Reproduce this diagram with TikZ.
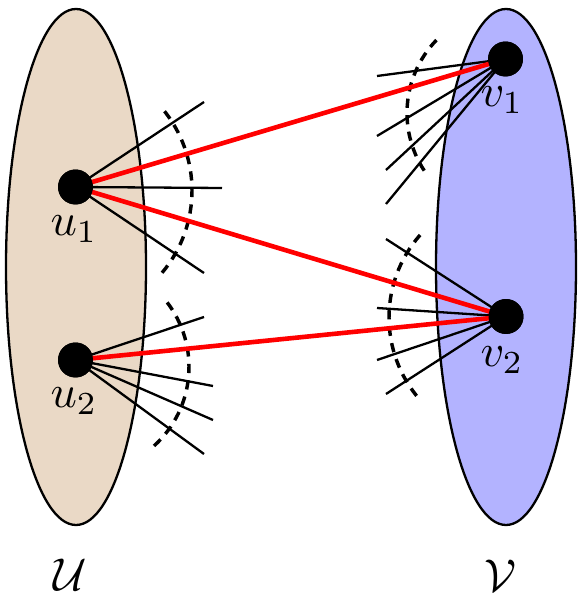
\documentclass[tikz,border=0pt]{standalone}
\usepackage{amsmath}
\begin{document}
\begin{tikzpicture}[x=0.2174pt,y=0.2174pt,
  setU/.style={draw=black,line width=0.5pt,fill=tanfill},
  setV/.style={draw=black,line width=0.5pt,fill=bluefill},
  vtx/.style={circle,fill=black,inner sep=0pt,minimum size=7.6pt},
  fan/.style={line width=0.5pt},
  match/.style={red,line width=1pt},
  cut/.style={line width=0.75pt,dash pattern=on 2pt off 1.6pt},
  lbl/.style={inner sep=0pt}]
\definecolor{tanfill}{HTML}{EAD9C6}
\definecolor{bluefill}{HTML}{B3B3FF}
\useasboundingbox (0,0) rectangle (582,605);
% sets
\draw[setU] (76,338) ellipse [x radius=70, y radius=258];
\draw[setV] (506,338) ellipse [x radius=70, y radius=258];
% vertex positions
\coordinate (pu1) at (75.5,418);
\coordinate (pu2) at (75.5,245);
\coordinate (pv1) at (505.5,546);
\coordinate (pv2) at (506,288.5);
% fan end points
\coordinate (a1) at (204,503);
\coordinate (a2) at (222,417);
\coordinate (a3) at (204,332);
\coordinate (b1) at (204,288);
\coordinate (b2) at (213,219);
\coordinate (b3) at (213,185);
\coordinate (b4) at (204,151);
\coordinate (c1) at (377,529);
\coordinate (c2) at (377,469);
\coordinate (c3) at (386,435);
\coordinate (c4) at (386,401);
\coordinate (d1) at (386,366);
\coordinate (d2) at (377,297);
\coordinate (d3) at (377,245);
\coordinate (d4) at (386,211);
% fans
\foreach \e in {a1,a2,a3} \draw[fan] (pu1) -- (\e);
\foreach \e in {b1,b2,b3,b4} \draw[fan] (pu2) -- (\e);
\foreach \e in {c1,c2,c3,c4} \draw[fan] (pv1) -- (\e);
\foreach \e in {d1,d2,d3,d4} \draw[fan] (pv2) -- (\e);
% cut arcs
\draw[cut] (64,414.5) ++(-40:128) arc[start angle=-40,end angle=40,radius=128];
\draw[cut] (82.5,238) ++(-47.8:106.5) arc[start angle=-47.8,end angle=38.3,radius=106.5];
\draw[cut] (512,492) ++(136:105) arc[start angle=136,end angle=216,radius=105];
\draw[cut] (514,287.5) ++(138.7:125) arc[start angle=138.7,end angle=221.3,radius=125];
% vertices
\node[vtx] (u1) at (pu1) {};
\node[vtx] (u2) at (pu2) {};
\node[vtx] (v1) at (pv1) {};
\node[vtx] (v2) at (pv2) {};
% matching edges
\draw[match] (u1.center) -- (v1.center);
\draw[match] (u1.center) -- (v2.center);
\draw[match] (u2.center) -- (v2.center);
\node[vtx] at (pu1) {};
\node[vtx] at (pu2) {};
\node[vtx] at (pv1) {};
\node[vtx] at (pv2) {};
% labels
\node[lbl] (lu1) at (74,376) {$u_1$};
\node[lbl] (lu2) at (74,204) {$u_2$};
\node[lbl] (lv1) at (502,505) {$v_1$};
\node[lbl] (lv2) at (502,245) {$v_2$};
\node[lbl] (lU) at (70,30) {$\mathcal{U}$};
\node[lbl] (lV) at (500,29) {$\mathcal{V}$};
\end{tikzpicture}
\end{document}
